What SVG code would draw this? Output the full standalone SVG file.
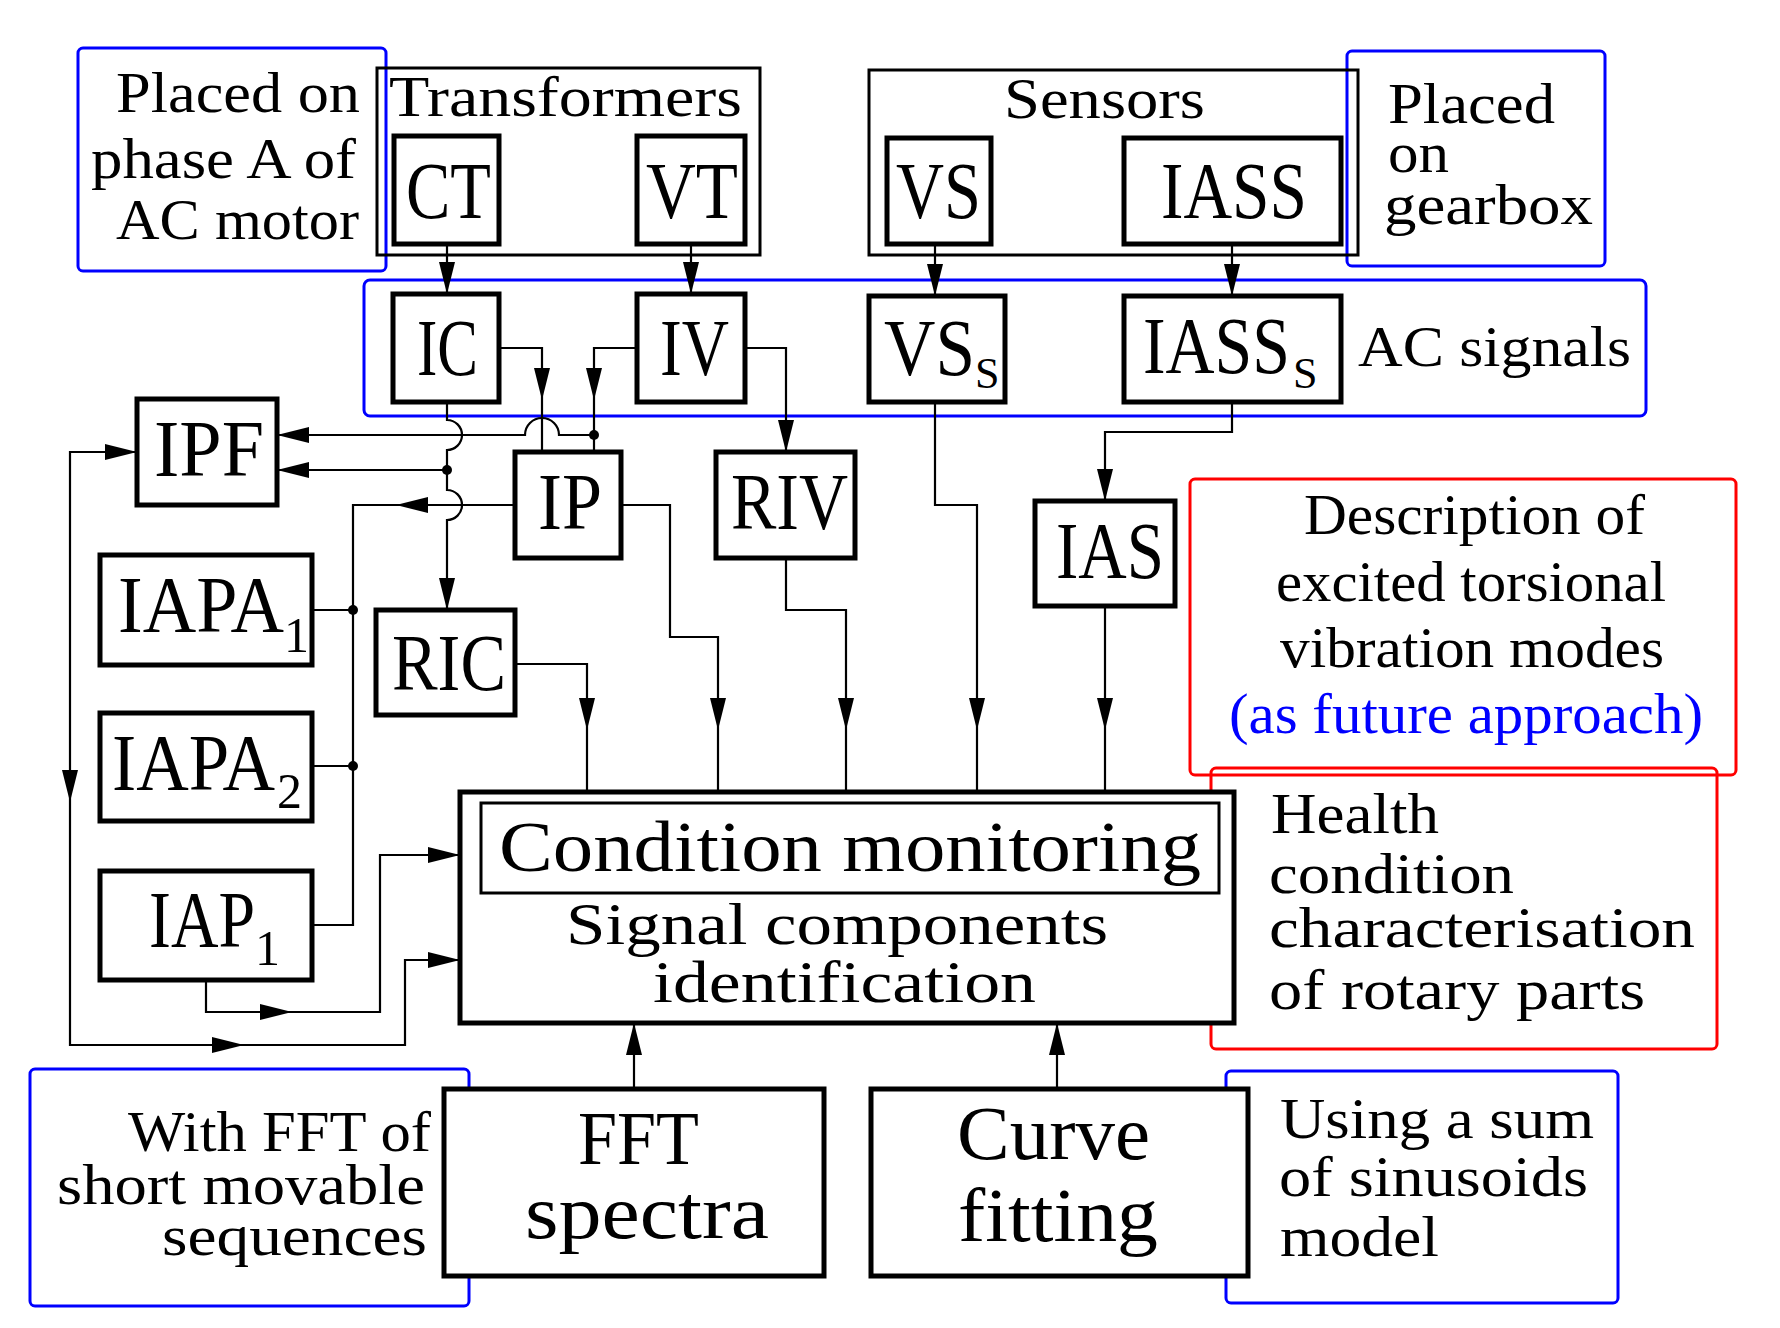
<svg xmlns="http://www.w3.org/2000/svg" width="1780" height="1328" viewBox="0 0 1780 1328">
<style>
text{font-family:"Liberation Serif","DejaVu Serif",serif;fill:#000}
.n{fill:#fff;stroke:#000;stroke-width:5}
.g{fill:none;stroke:#000;stroke-width:3}
.b{fill:none;stroke:#0000ff;stroke-width:3}
.r{fill:none;stroke:#ff0000;stroke-width:3}
.c{fill:none;stroke:#000;stroke-width:2.2}
.L{font-size:80px}
.M{font-size:56px}
.blue{fill:#0000ff}
</style>
<defs>
<path id="a" d="M0,0 L-8,-32 L8,-32 Z" fill="#000"/>
</defs>
<g id="notes">
<rect class="b" x="78" y="48" width="308" height="223" rx="5"/>
<rect class="b" x="1347" y="51" width="258" height="215" rx="5"/>
<rect class="b" x="364" y="280" width="1282" height="136" rx="6"/>
<rect class="r" x="1190" y="479" width="546" height="296" rx="5"/>
<rect class="r" x="1211" y="768" width="506" height="281" rx="5"/>
<rect class="b" x="30" y="1069" width="439" height="237" rx="5"/>
<rect class="b" x="1226" y="1071" width="392" height="232" rx="5"/>
<text class="M" x="116" y="112" textLength="244" lengthAdjust="spacingAndGlyphs">Placed on</text>
<text class="M" x="91" y="178" textLength="265" lengthAdjust="spacingAndGlyphs">phase A of</text>
<text class="M" x="116" y="239" textLength="243" lengthAdjust="spacingAndGlyphs">AC motor</text>
<text class="M" x="1388" y="123" textLength="167" lengthAdjust="spacingAndGlyphs">Placed</text>
<text class="M" x="1388" y="172" textLength="61" lengthAdjust="spacingAndGlyphs">on</text>
<text class="M" x="1384" y="224" textLength="209" lengthAdjust="spacingAndGlyphs">gearbox</text>
<text class="M" x="1358" y="366" textLength="273" lengthAdjust="spacingAndGlyphs">AC signals</text>
<text class="M" x="1304" y="534" textLength="341" lengthAdjust="spacingAndGlyphs">Description of</text>
<text class="M" x="1276" y="601" textLength="390" lengthAdjust="spacingAndGlyphs">excited torsional</text>
<text class="M" x="1280" y="667" textLength="384" lengthAdjust="spacingAndGlyphs">vibration modes</text>
<text class="M blue" x="1229" y="733" textLength="474" lengthAdjust="spacingAndGlyphs">(as future approach)</text>
<text class="M" x="1271" y="833" textLength="168" lengthAdjust="spacingAndGlyphs">Health</text>
<text class="M" x="1269" y="893" textLength="245" lengthAdjust="spacingAndGlyphs">condition</text>
<text class="M" x="1269" y="947" textLength="426" lengthAdjust="spacingAndGlyphs">characterisation</text>
<text class="M" x="1269" y="1009" textLength="376" lengthAdjust="spacingAndGlyphs">of rotary parts</text>
<text class="M" x="128" y="1151" textLength="303" lengthAdjust="spacingAndGlyphs">With FFT of</text>
<text class="M" x="57" y="1204" textLength="368" lengthAdjust="spacingAndGlyphs">short movable</text>
<text class="M" x="162" y="1255" textLength="265" lengthAdjust="spacingAndGlyphs">sequences</text>
<text class="M" x="1280" y="1138" textLength="314" lengthAdjust="spacingAndGlyphs">Using a sum</text>
<text class="M" x="1279" y="1196" textLength="309" lengthAdjust="spacingAndGlyphs">of sinusoids</text>
<text class="M" x="1280" y="1256" textLength="159" lengthAdjust="spacingAndGlyphs">model</text>
</g>
<g id="transformers"><rect class="g" x="377" y="68" width="383" height="187"/>
<text class="M" x="389" y="116" textLength="353" lengthAdjust="spacingAndGlyphs">Transformers</text></g>
<g id="sensors"><rect class="g" x="869" y="70" width="489" height="185"/>
<text class="M" x="1004" y="118" textLength="201" lengthAdjust="spacingAndGlyphs">Sensors</text></g>
<g id="connectors">
<path class="c" d="M447,244V294M691,244V294M935,244V296M1232,244V296"/>
<path class="c" d="M499,348H542V452M637,348H594V452"/>
<path class="c" d="M594,435H559A17,17 0 0 0 525,435H277"/>
<path class="c" d="M447,402V420A15,15 0 0 1 447,450V490A15,15 0 0 1 447,520V610"/>
<path class="c" d="M447,470H277"/>
<path class="c" d="M745,348H786V452"/>
<path class="c" d="M515,505H353V925H312M312,610H353M312,766H353"/>
<path class="c" d="M621,505H670V637H718V792"/>
<path class="c" d="M786,558V610H846V792"/>
<path class="c" d="M515,664H587V792"/>
<path class="c" d="M935,402V505H977V792"/>
<path class="c" d="M1232,402V432H1105V501M1105,606V792"/>
<path class="c" d="M206,980V1012H380V855H460"/>
<path class="c" d="M137,452H70V1045H405V960H460"/>
<path class="c" d="M634,1089V1023M1057,1089V1023"/>
<circle cx="594" cy="435" r="5"/><circle cx="447" cy="470" r="5"/>
<circle cx="353" cy="610" r="5"/><circle cx="353" cy="766" r="5"/>
<use href="#a" x="447" y="294"/><use href="#a" x="691" y="294"/>
<use href="#a" x="935" y="296"/><use href="#a" x="1232" y="296"/>
<use href="#a" x="542" y="400"/><use href="#a" x="594" y="400"/>
<use href="#a" x="786" y="452"/><use href="#a" x="447" y="610"/>
<use href="#a" x="1105" y="501"/>
<use href="#a" x="587" y="730"/><use href="#a" x="718" y="730"/>
<use href="#a" x="846" y="730"/><use href="#a" x="977" y="730"/>
<use href="#a" x="1105" y="730"/><use href="#a" x="70" y="802"/>
<use href="#a" transform="translate(277,435) rotate(90)"/>
<use href="#a" transform="translate(277,470) rotate(90)"/>
<use href="#a" transform="translate(396,505) rotate(90)"/>
<use href="#a" transform="translate(137,452) rotate(-90)"/>
<use href="#a" transform="translate(460,855) rotate(-90)"/>
<use href="#a" transform="translate(460,960) rotate(-90)"/>
<use href="#a" transform="translate(292,1012) rotate(-90)"/>
<use href="#a" transform="translate(244,1045) rotate(-90)"/>
<use href="#a" transform="translate(634,1023) rotate(180)"/>
<use href="#a" transform="translate(1057,1023) rotate(180)"/>
</g>
<g id="CT"><rect class="n" x="394" y="136" width="105" height="108"/><text class="L" x="406" y="218" textLength="85" lengthAdjust="spacingAndGlyphs">CT</text></g>
<g id="VT"><rect class="n" x="637" y="136" width="108" height="108"/><text class="L" x="646" y="218" textLength="92" lengthAdjust="spacingAndGlyphs">VT</text></g>
<g id="VS"><rect class="n" x="887" y="138" width="104" height="106"/><text class="L" x="896" y="218" textLength="85" lengthAdjust="spacingAndGlyphs">VS</text></g>
<g id="IASS"><rect class="n" x="1124" y="138" width="217" height="106"/><text class="L" x="1161" y="218" textLength="146" lengthAdjust="spacingAndGlyphs">IASS</text></g>
<g id="IC"><rect class="n" x="393" y="294" width="106" height="108"/><text class="L" x="417" y="375" textLength="61" lengthAdjust="spacingAndGlyphs">IC</text></g>
<g id="IV"><rect class="n" x="637" y="294" width="108" height="108"/><text class="L" x="660" y="375" textLength="69" lengthAdjust="spacingAndGlyphs">IV</text></g>
<g id="VSs"><rect class="n" x="869" y="296" width="136" height="106"/><text class="L" x="884" y="375" textLength="91" lengthAdjust="spacingAndGlyphs">VS</text><text font-size="44" x="975" y="388">S</text></g>
<g id="IASSs"><rect class="n" x="1124" y="296" width="217" height="106"/><text class="L" x="1143" y="373" textLength="147" lengthAdjust="spacingAndGlyphs">IASS</text><text font-size="44" x="1293" y="388">S</text></g>
<g id="IPF"><rect class="n" x="137" y="399" width="140" height="106"/><text class="L" x="154" y="476" textLength="110" lengthAdjust="spacingAndGlyphs">IPF</text></g>
<g id="IP"><rect class="n" x="515" y="452" width="106" height="106"/><text class="L" x="538" y="529" textLength="64" lengthAdjust="spacingAndGlyphs">IP</text></g>
<g id="RIV"><rect class="n" x="716" y="452" width="139" height="106"/><text class="L" x="731" y="529" textLength="117" lengthAdjust="spacingAndGlyphs">RIV</text></g>
<g id="IAS"><rect class="n" x="1035" y="501" width="140" height="105"/><text class="L" x="1056" y="578" textLength="108" lengthAdjust="spacingAndGlyphs">IAS</text></g>
<g id="IAPA1"><rect class="n" x="100" y="555" width="212" height="110"/><text class="L" x="118" y="632" textLength="166" lengthAdjust="spacingAndGlyphs">IAPA</text><text font-size="50" x="284" y="652">1</text></g>
<g id="RIC"><rect class="n" x="376" y="610" width="139" height="105"/><text class="L" x="392" y="690" textLength="114" lengthAdjust="spacingAndGlyphs">RIC</text></g>
<g id="IAPA2"><rect class="n" x="100" y="713" width="212" height="108"/><text class="L" x="112" y="790" textLength="163" lengthAdjust="spacingAndGlyphs">IAPA</text><text font-size="50" x="277" y="808">2</text></g>
<g id="IAP1"><rect class="n" x="100" y="871" width="212" height="109"/><text class="L" x="149" y="947" textLength="106" lengthAdjust="spacingAndGlyphs">IAP</text><text font-size="50" x="255" y="965">1</text></g>
<g id="CM"><rect class="n" x="460" y="792" width="774" height="231"/>
<rect fill="none" stroke="#000" stroke-width="3" x="481" y="803" width="738" height="90"/>
<text font-size="72" x="499" y="871" textLength="702" lengthAdjust="spacingAndGlyphs">Condition monitoring</text>
<text font-size="60" x="566" y="944" textLength="542" lengthAdjust="spacingAndGlyphs">Signal components</text>
<text font-size="60" x="653" y="1002" textLength="383" lengthAdjust="spacingAndGlyphs">identification</text></g>
<g id="FFT"><rect class="n" x="444" y="1089" width="380" height="187"/>
<text font-size="76" x="578" y="1164" textLength="121" lengthAdjust="spacingAndGlyphs">FFT</text>
<text font-size="76" x="525" y="1238" textLength="244" lengthAdjust="spacingAndGlyphs">spectra</text></g>
<g id="Curve"><rect class="n" x="871" y="1089" width="377" height="187"/>
<text font-size="76" x="957" y="1159" textLength="193" lengthAdjust="spacingAndGlyphs">Curve</text>
<text font-size="76" x="958" y="1241" textLength="200" lengthAdjust="spacingAndGlyphs">fitting</text></g>
</svg>
